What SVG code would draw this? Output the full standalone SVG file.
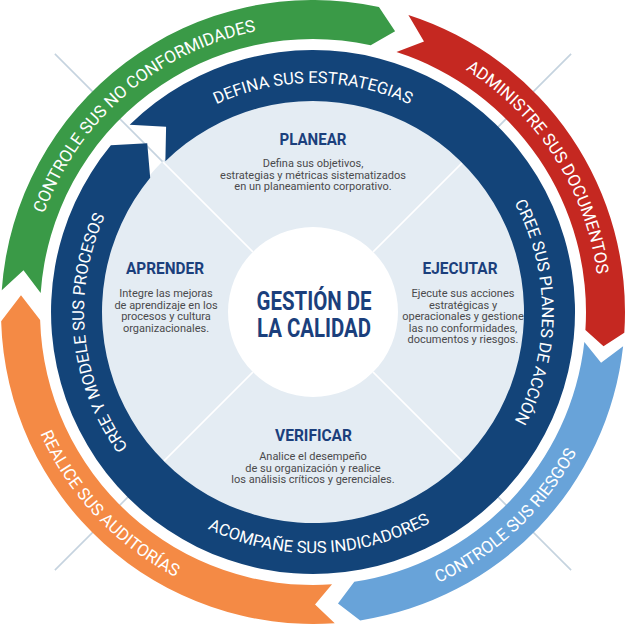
<svg xmlns="http://www.w3.org/2000/svg" width="626" height="625" viewBox="0 0 626 625">
<defs>
<style>
.arc{font-family:Roboto,"Liberation Sans",sans-serif;font-weight:400;fill:#fff;text-anchor:middle}
.o{font-size:17px}
.i{font-size:16.5px}
.hd{font-family:Roboto,"Liberation Sans",sans-serif;font-weight:700;fill:#1b3f7c;text-anchor:middle;font-size:16.5px}
.bd{font-family:Roboto,"Liberation Sans",sans-serif;font-weight:400;fill:#4a4a4c;text-anchor:middle;font-size:11px}
.ct{font-family:Roboto,"Liberation Sans",sans-serif;font-weight:700;fill:#1b3f7c;text-anchor:middle;font-size:25.5px}
.gl{stroke:#c5d3df;stroke-width:1.6}
.wl{stroke:#fff;stroke-width:1.6}
</style>
<path id="pGreen" d="M45.00,413.27 A286.5,286.5 0 0 1 453.21,62.15"/>
<path id="pRed" d="M250.01,32.51 A286.5,286.5 0 0 1 540.80,485.75"/>
<path id="pLBlue" d="M179.34,578.90 A298.5,298.5 0 0 0 586.95,193.45"/>
<path id="pOrange" d="M46.33,177.88 A298.5,298.5 0 0 0 431.07,586.16"/>
<path id="pTop" d="M97.81,233.68 A229,229 0 0 1 528.19,233.68"/>
<path id="pRight" d="M391.32,96.81 A229,229 0 0 1 391.32,527.19"/>
<path id="pBottom" d="M88.92,400.72 A241,241 0 0 0 541.68,388.07"/>
<path id="pLeft" d="M256.44,533.91 A229,229 0 0 1 213.69,105.65"/>
</defs>
<rect width="626" height="625" fill="#fff"/>
<g id="connectors">
<line class="gl" x1="462.9" y1="162.1" x2="571.1" y2="53.9"/>
<line class="gl" x1="462.9" y1="461.9" x2="571.1" y2="570.1"/>
<line class="gl" x1="163.1" y1="461.9" x2="54.9" y2="570.1"/>
<line class="gl" x1="163.1" y1="162.1" x2="54.9" y2="53.9"/>
</g>
<g id="disk">
<circle cx="313" cy="312" r="213" fill="#e4ecf3"/>
<line class="wl" x1="373.1" y1="251.9" x2="462.9" y2="162.1"/>
<line class="wl" x1="373.1" y1="372.1" x2="462.9" y2="461.9"/>
<line class="wl" x1="252.9" y1="372.1" x2="163.1" y2="461.9"/>
<line class="wl" x1="252.9" y1="251.9" x2="163.1" y2="162.1"/>
</g>
<g id="ring-inner">
<path fill="#134479" d="M129.69,124.81 A262,262 0 1 1 110.84,145.35 L147.23,143.32 L150.19,177.79 A211,211 0 1 0 165.37,161.25 L166.10,126.66 Z"/>
<text class="arc i"><textPath href="#pTop" startOffset="50%">DEFINA SUS ESTRATEGIAS</textPath></text>
<text class="arc i"><textPath href="#pRight" startOffset="50%">CREE SUS PLANES DE ACCIÓN</textPath></text>
<text class="arc i"><textPath href="#pBottom" startOffset="50%">ACOMPAÑE SUS INDICADORES</textPath></text>
<text class="arc i"><textPath href="#pLeft" startOffset="50%">CREE Y MODELE SUS PROCESOS</textPath></text>
</g>
<g id="arrow-green">
<path fill="#3a9a47" d="M1.76,290.24 A312,312 0 0 1 378.93,7.04 L395.10,31.26 L370.69,45.16 A273,273 0 0 0 40.67,292.96 L23.49,270.28 Z"/>
<text class="arc o"><textPath href="#pGreen" startOffset="50%">CONTROLE SUS NO CONFORMIDADES</textPath></text>
</g>
<g id="arrow-red">
<path fill="#c52821" d="M408.38,14.94 A312,312 0 0 1 624.31,332.68 L603.50,346.13 L585.40,330.09 A273,273 0 0 0 396.46,52.07 L423.99,41.38 Z"/>
<text class="arc o"><textPath href="#pRed" startOffset="50%">ADMINISTRE SUS DOCUMENTOS</textPath></text>
</g>
<g id="arrow-lightblue">
<path fill="#68a3d9" d="M623.12,346.24 A312,312 0 0 1 360.19,620.41 L337.99,603.43 L354.29,581.86 A273,273 0 0 0 584.35,341.96 L601.06,362.79 Z"/>
<text class="arc o"><textPath href="#pLBlue" startOffset="50%">CONTROLE SUS RIESGOS</textPath></text>
</g>
<g id="arrow-orange">
<path fill="#f48a45" d="M334.76,623.24 A312,312 0 0 1 1.14,321.26 L20.99,295.16 L40.12,320.10 A273,273 0 0 0 332.04,584.33 L315.04,604.49 Z"/>
<text class="arc o"><textPath href="#pOrange" startOffset="50%">REALICE SUS AUDITORÍAS</textPath></text>
</g>
<g id="planear">
<text class="hd" x="313" y="144.5" textLength="67" lengthAdjust="spacingAndGlyphs">PLANEAR</text>
<text class="bd" x="313" y="167">Defina sus objetivos,</text>
<text class="bd" x="313" y="178.5">estrategias y métricas sistematizados</text>
<text class="bd" x="313" y="190">en un planeamiento corporativo.</text>
</g>
<g id="aprender">
<text class="hd" x="165" y="273.5" textLength="78" lengthAdjust="spacingAndGlyphs">APRENDER</text>
<text class="bd" x="166" y="297">Integre las mejoras</text>
<text class="bd" x="166" y="308.5">de aprendizaje en los</text>
<text class="bd" x="166" y="320">procesos y cultura</text>
<text class="bd" x="166" y="331.5">organizacionales.</text>
</g>
<g id="ejecutar">
<text class="hd" x="460" y="273.5" textLength="75" lengthAdjust="spacingAndGlyphs">EJECUTAR</text>
<text class="bd" x="463" y="297">Ejecute sus acciones</text>
<text class="bd" x="463" y="308.5">estratégicas y</text>
<text class="bd" x="463" y="320">operacionales y gestione</text>
<text class="bd" x="463" y="331.5">las no conformidades,</text>
<text class="bd" x="463" y="343">documentos y riesgos.</text>
</g>
<g id="verificar">
<text class="hd" x="313.5" y="441" textLength="77" lengthAdjust="spacingAndGlyphs">VERIFICAR</text>
<text class="bd" x="313" y="460">Analice el desempeño</text>
<text class="bd" x="313" y="471.5">de su organización y realice</text>
<text class="bd" x="313" y="483">los análisis críticos y gerenciales.</text>
</g>
<g id="center">
<circle cx="313" cy="312" r="85" fill="#fff"/>
<text class="ct" x="314" y="310" textLength="115" lengthAdjust="spacingAndGlyphs">GESTIÓN DE</text>
<text class="ct" x="314" y="337" textLength="114" lengthAdjust="spacingAndGlyphs">LA CALIDAD</text>
</g>
</svg>
